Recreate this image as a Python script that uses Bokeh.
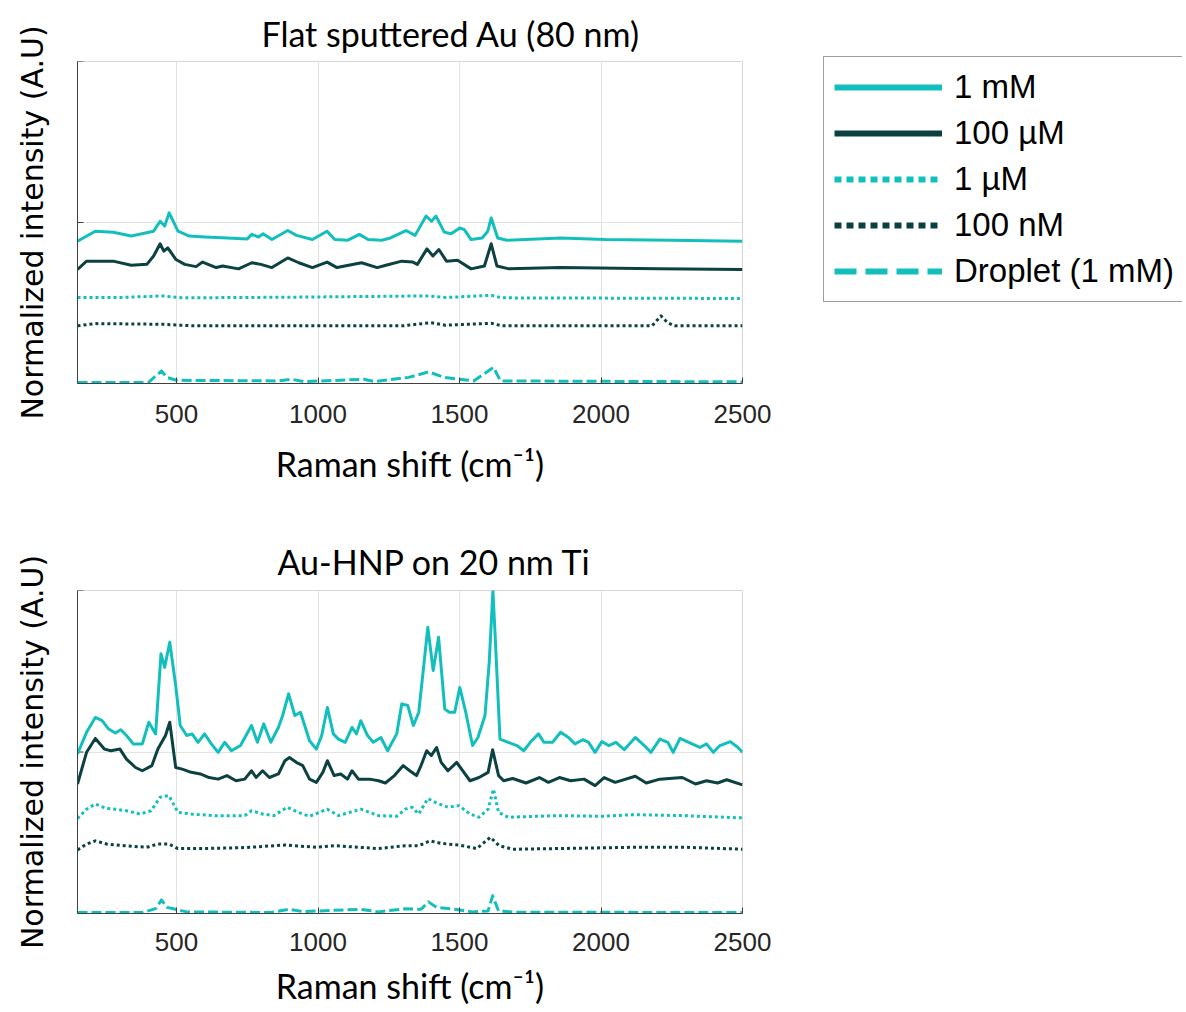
from bokeh.plotting import figure
from bokeh.models import (Legend, LegendItem, FixedTicker, Range1d, ColumnDataSource)
from bokeh.layouts import column, row
from bokeh.embed import file_html
from bokeh.resources import INLINE

# ---------------- data ----------------
# Top panel: Flat sputtered Au (80 nm)
top_1mM_x = [150, 213, 276, 340, 419, 442, 458, 474, 505, 545, 600, 680, 750, 766, 790, 806, 837, 893, 924, 980,
             1032, 1059, 1106, 1146, 1177, 1225, 1256, 1311, 1343, 1382, 1401, 1417, 1446, 1470, 1501, 1517, 1541,
             1580, 1600, 1612, 1635, 1667, 1857, 2015, 2252, 2500]
top_1mM_y = [0.442, 0.473, 0.470, 0.458, 0.473, 0.504, 0.489, 0.530, 0.473, 0.458, 0.455, 0.452, 0.449, 0.463,
             0.455, 0.465, 0.447, 0.475, 0.460, 0.447, 0.473, 0.447, 0.445, 0.463, 0.447, 0.445, 0.452, 0.475,
             0.460, 0.520, 0.504, 0.520, 0.470, 0.465, 0.483, 0.478, 0.447, 0.452, 0.473, 0.514, 0.452, 0.445,
             0.452, 0.447, 0.445, 0.442]

top_100uM_x = [150, 182, 276, 340, 395, 419, 442, 455, 469, 498, 529, 569, 592, 640, 663, 719, 766, 798, 837, 893,
               932, 980, 1032, 1067, 1154, 1209, 1240, 1296, 1335, 1351, 1385, 1406, 1427, 1454, 1493, 1541, 1588,
               1612, 1632, 1675, 1857, 2200, 2500]
top_100uM_y = [0.354, 0.380, 0.380, 0.367, 0.370, 0.396, 0.434, 0.411, 0.421, 0.385, 0.370, 0.363, 0.377, 0.360,
               0.365, 0.356, 0.375, 0.370, 0.360, 0.390, 0.375, 0.360, 0.377, 0.360, 0.375, 0.360, 0.367, 0.380,
               0.377, 0.370, 0.418, 0.396, 0.416, 0.380, 0.383, 0.356, 0.365, 0.434, 0.365, 0.356, 0.360, 0.356,
               0.354]

top_1uM_x = [150, 300, 450, 520, 900, 1391, 1450, 1612, 1650, 2500]
top_1uM_y = [0.267, 0.267, 0.272, 0.266, 0.268, 0.272, 0.267, 0.274, 0.266, 0.264]

top_100nM_x = [150, 213, 450, 560, 1300, 1399, 1450, 1612, 1650, 2180, 2212, 2235, 2260, 2500]
top_100nM_y = [0.179, 0.186, 0.184, 0.179, 0.179, 0.189, 0.181, 0.187, 0.179, 0.179, 0.210, 0.189, 0.179, 0.179]

top_drop_x = [150, 400, 447, 465, 500, 860, 908, 950, 1161, 1200, 1320, 1391, 1446, 1550, 1620, 1645, 2500]
top_drop_y = [0.003, 0.003, 0.039, 0.019, 0.010, 0.008, 0.013, 0.006, 0.013, 0.006, 0.019, 0.036, 0.019, 0.008,
              0.050, 0.008, 0.005]

# Bottom panel: Au-HNP on 20 nm Ti
bot_1mM_x = [150, 182, 213, 237, 260, 284, 303, 323, 347, 379, 402, 426, 445, 458, 476, 497, 513, 536, 555, 576,
             599, 623, 647, 670, 694, 726, 765, 786, 808, 833, 860, 875, 896, 918, 938, 970, 994, 1013, 1033, 1054,
             1072, 1096, 1120, 1136, 1151, 1175, 1195, 1222, 1246, 1278, 1296, 1317, 1337, 1356, 1388, 1407, 1426,
             1448, 1464, 1483, 1501, 1522, 1546, 1565, 1590, 1605, 1618, 1627, 1643, 1672, 1703, 1727, 1750, 1779,
             1798, 1829, 1857, 1885, 1908, 1936, 1956, 1979, 2003, 2027, 2053, 2082, 2121, 2153, 2176, 2208, 2236,
             2255, 2279, 2310, 2349, 2373, 2397, 2420, 2457, 2484, 2500]
bot_1mM_y = [0.494, 0.561, 0.607, 0.597, 0.571, 0.559, 0.569, 0.551, 0.525, 0.525, 0.592, 0.556, 0.804, 0.762,
             0.840, 0.706, 0.582, 0.551, 0.556, 0.530, 0.556, 0.525, 0.499, 0.530, 0.504, 0.520, 0.582, 0.530,
             0.587, 0.530, 0.576, 0.613, 0.680, 0.613, 0.623, 0.535, 0.509, 0.551, 0.638, 0.556, 0.540, 0.530,
             0.576, 0.556, 0.597, 0.551, 0.530, 0.545, 0.504, 0.556, 0.649, 0.644, 0.582, 0.623, 0.886, 0.752,
             0.855, 0.633, 0.623, 0.623, 0.700, 0.623, 0.520, 0.545, 0.613, 0.778, 1.000, 0.840, 0.540, 0.530,
             0.520, 0.504, 0.530, 0.556, 0.530, 0.530, 0.561, 0.545, 0.525, 0.538, 0.530, 0.499, 0.532, 0.520,
             0.530, 0.507, 0.545, 0.520, 0.499, 0.540, 0.530, 0.499, 0.542, 0.530, 0.514, 0.525, 0.499, 0.520,
             0.532, 0.514, 0.499]

bot_100uM_x = [150, 182, 213, 245, 268, 300, 323, 355, 379, 413, 434, 461, 476, 497, 520, 552, 584, 615, 647, 678,
               710, 741, 765, 781, 804, 828, 860, 883, 899, 923, 946, 970, 994, 1017, 1033, 1057, 1080, 1104, 1120,
               1143, 1182, 1214, 1238, 1270, 1301, 1324, 1348, 1364, 1384, 1400, 1419, 1435, 1459, 1490, 1511,
               1537, 1569, 1601, 1617, 1638, 1656, 1688, 1735, 1782, 1814, 1853, 1893, 1940, 1979, 2011, 2050,
               2121, 2160, 2208, 2287, 2334, 2373, 2412, 2444, 2500]
bot_100uM_y = [0.401, 0.499, 0.542, 0.509, 0.504, 0.509, 0.478, 0.452, 0.442, 0.458, 0.509, 0.551, 0.592, 0.452,
               0.447, 0.437, 0.432, 0.421, 0.416, 0.427, 0.411, 0.416, 0.442, 0.421, 0.442, 0.421, 0.432, 0.473,
               0.483, 0.468, 0.458, 0.416, 0.406, 0.437, 0.473, 0.427, 0.432, 0.416, 0.442, 0.416, 0.416, 0.411,
               0.404, 0.427, 0.458, 0.442, 0.427, 0.458, 0.504, 0.489, 0.514, 0.468, 0.442, 0.468, 0.442, 0.411,
               0.421, 0.437, 0.507, 0.427, 0.411, 0.418, 0.404, 0.421, 0.406, 0.421, 0.411, 0.416, 0.396, 0.421,
               0.406, 0.425, 0.404, 0.416, 0.421, 0.401, 0.411, 0.404, 0.414, 0.398]

bot_1uM_x = [150, 182, 213, 253, 284, 323, 371, 410, 442, 473, 505, 552, 631, 741, 765, 804, 844, 891, 930, 970,
             1033, 1072, 1151, 1214, 1278, 1309, 1332, 1356, 1388, 1419, 1459, 1498, 1537, 1569, 1601, 1620, 1638,
             1672, 1845, 2003, 2113, 2287, 2500]
bot_1uM_y = [0.294, 0.323, 0.339, 0.325, 0.323, 0.318, 0.308, 0.318, 0.360, 0.365, 0.313, 0.308, 0.303, 0.303,
             0.318, 0.308, 0.303, 0.329, 0.313, 0.301, 0.323, 0.303, 0.323, 0.303, 0.301, 0.323, 0.329, 0.308,
             0.356, 0.342, 0.329, 0.334, 0.308, 0.298, 0.323, 0.385, 0.313, 0.298, 0.303, 0.301, 0.306, 0.303,
             0.296]

bot_100nM_x = [150, 182, 213, 253, 316, 394, 434, 473, 505, 584, 741, 883, 994, 1057, 1214, 1309, 1356, 1396, 1435,
               1498, 1561, 1609, 1640, 1688, 1845, 2113, 2295, 2500]
bot_100nM_y = [0.197, 0.215, 0.225, 0.215, 0.210, 0.205, 0.215, 0.215, 0.201, 0.201, 0.204, 0.212, 0.205, 0.210,
               0.201, 0.210, 0.210, 0.225, 0.217, 0.212, 0.201, 0.236, 0.210, 0.199, 0.201, 0.205, 0.205, 0.199]

bot_drop_x = [150, 379, 426, 447, 466, 497, 536, 834, 899, 946, 1151, 1214, 1309, 1364, 1390, 1419, 1483, 1546,
              1601, 1617, 1638, 1700, 2500]
bot_drop_y = [0.003, 0.003, 0.015, 0.042, 0.019, 0.013, 0.005, 0.003, 0.013, 0.006, 0.013, 0.005, 0.015, 0.013,
              0.036, 0.019, 0.013, 0.005, 0.008, 0.055, 0.008, 0.004, 0.003]

series_labels = ["1 mM", "100 \u00b5M", "1 \u00b5M", "100 nM", "Droplet (1 mM)"]
x_ticks = [500, 1000, 1500, 2000, 2500]
y_ticks = [0, 0.5, 1]
x_start, x_end = 150, 2500
titles = ["Flat sputtered Au (80 nm)", "Au-HNP on 20 nm Ti"]

# ---------------- styles ----------------
CYAN = "#13bfbd"
DARK = "#0b4241"
styles = [
    dict(color=CYAN, dash="solid"),
    dict(color=DARK, dash="solid"),
    dict(color=CYAN, dash="3 3"),
    dict(color=DARK, dash="3 3"),
    dict(color=CYAN, dash="10 4"),
]
legend_dash = ["solid", "solid", "7 5", "7 5", "22 9"]

TITLE_FONT = "Lato"
TICK_FONT = "Liberation Sans"
YLABEL_FONT = "DejaVu Sans"
LEGEND_FONT = "Liberation Sans"


def make_panel(title, data, left, fw, fh, top, bottom, right, title_offset, title_standoff,
               tick_standoff, label_standoff):
    p = figure(width=left + fw + right, height=top + fh + bottom, output_backend="svg", toolbar_location=None,
               x_range=Range1d(x_start, x_end), y_range=Range1d(0, 1),
               min_border_left=left, min_border_right=right, min_border_top=top, min_border_bottom=bottom)
    p.title.text = title
    p.title.text_font = TITLE_FONT
    p.title.text_font_size = "34px"
    p.title.text_font_style = "normal"
    p.title.text_color = "#000000"
    p.title.align = "left"
    p.title.offset = title_offset
    p.title.standoff = title_standoff

    p.outline_line_color = "#d6d6d6"
    p.outline_line_width = 1
    p.background_fill_color = "white"
    p.border_fill_color = "white"

    p.xgrid.ticker = FixedTicker(ticks=x_ticks)
    p.ygrid.ticker = FixedTicker(ticks=y_ticks)
    for g in (p.xgrid, p.ygrid):
        g.grid_line_color = "#e3e3e3"
        g.grid_line_width = 1

    xa = p.xaxis[0]
    xa.ticker = FixedTicker(ticks=x_ticks)
    xa.axis_line_color = "#404040"
    xa.major_tick_line_color = "#404040"
    xa.major_tick_in = 6
    xa.major_tick_out = 0
    xa.minor_tick_line_color = None
    xa.major_label_text_font = TICK_FONT
    xa.major_label_text_font_size = "26px"
    xa.major_label_text_color = "#262626"
    xa.major_label_standoff = tick_standoff
    xa.axis_label = "Raman shift (cm\u207b\u00b9)"
    xa.axis_label_text_font = TITLE_FONT
    xa.axis_label_text_font_size = "34px"
    xa.axis_label_text_font_style = "normal"
    xa.axis_label_text_color = "#000000"
    xa.axis_label_standoff = label_standoff

    # y axis: no tick labels; the small inward ticks are drawn as dash markers clipped by the frame
    ya = p.yaxis[0]
    ya.ticker = FixedTicker(ticks=[])
    ya.axis_line_color = "#404040"
    ya.major_tick_line_color = None
    ya.minor_tick_line_color = None
    ya.major_label_standoff = 0
    ya.axis_label = "Normalized intensity (A.U)"
    ya.axis_label_text_font = YLABEL_FONT
    ya.axis_label_text_font_size = "30px"
    ya.axis_label_text_font_style = "normal"
    ya.axis_label_text_color = "#000000"
    ya.axis_label_standoff = 28
    p.scatter(x=[x_start] * len(y_ticks), y=y_ticks, marker="dash", size=12,
              line_color="#404040", line_width=1)

    # draw lower series first so that 1 mM is on top
    for (xs, ys), st in reversed(list(zip(data, styles))):
        p.line(xs, ys, line_color=st["color"], line_width=3, line_dash=st["dash"],
               line_cap="butt", line_join="round")
    return p


top_data = [(top_1mM_x, top_1mM_y), (top_100uM_x, top_100uM_y), (top_1uM_x, top_1uM_y),
            (top_100nM_x, top_100nM_y), (top_drop_x, top_drop_y)]
bot_data = [(bot_1mM_x, bot_1mM_y), (bot_100uM_x, bot_100uM_y), (bot_1uM_x, bot_1uM_y),
            (bot_100nM_x, bot_100nM_y), (bot_drop_x, bot_drop_y)]

p1 = make_panel(titles[0], top_data, left=76, fw=666, fh=322, top=61, bottom=124, right=40,
                title_offset=184, title_standoff=16, tick_standoff=21, label_standoff=17)
p2 = make_panel(titles[1], bot_data, left=77, fw=668, fh=323, top=83, bottom=98, right=37,
                title_offset=200, title_standoff=17, tick_standoff=19, label_standoff=11)

# legend figure (legend-only renderers with thicker lines, data kept outside the visible range)
pl = figure(width=400, height=320, output_backend="svg", toolbar_location=None,
            x_range=Range1d(0, 1), y_range=Range1d(0, 1),
            x_axis_location=None, y_axis_location=None,
            min_border=0, min_border_left=0, min_border_right=0, min_border_top=0, min_border_bottom=0)
pl.grid.visible = False
pl.outline_line_color = None
items = []
for lab, st, ld in zip(series_labels, styles, legend_dash):
    src = ColumnDataSource(data=dict(x=[-10, -9], y=[-10, -10]))
    r = pl.line("x", "y", source=src, line_color=st["color"], line_width=6, line_dash=ld, line_cap="butt")
    items.append(LegendItem(label=lab, renderers=[r]))

legend = Legend(items=items, location=(41, 18), orientation="vertical",
                label_text_font=LEGEND_FONT, label_text_font_size="33px", label_text_color="#000000",
                glyph_width=108, glyph_height=40, label_height=40, label_standoff=12,
                spacing=6, padding=10, margin=0,
                border_line_color="#404040", border_line_width=1.5,
                background_fill_color="white", background_fill_alpha=1.0)
pl.add_layout(legend, "center")

layout = row(column(p1, p2, spacing=0), pl, spacing=0)
open("out.html", "w").write(file_html(layout, INLINE))
